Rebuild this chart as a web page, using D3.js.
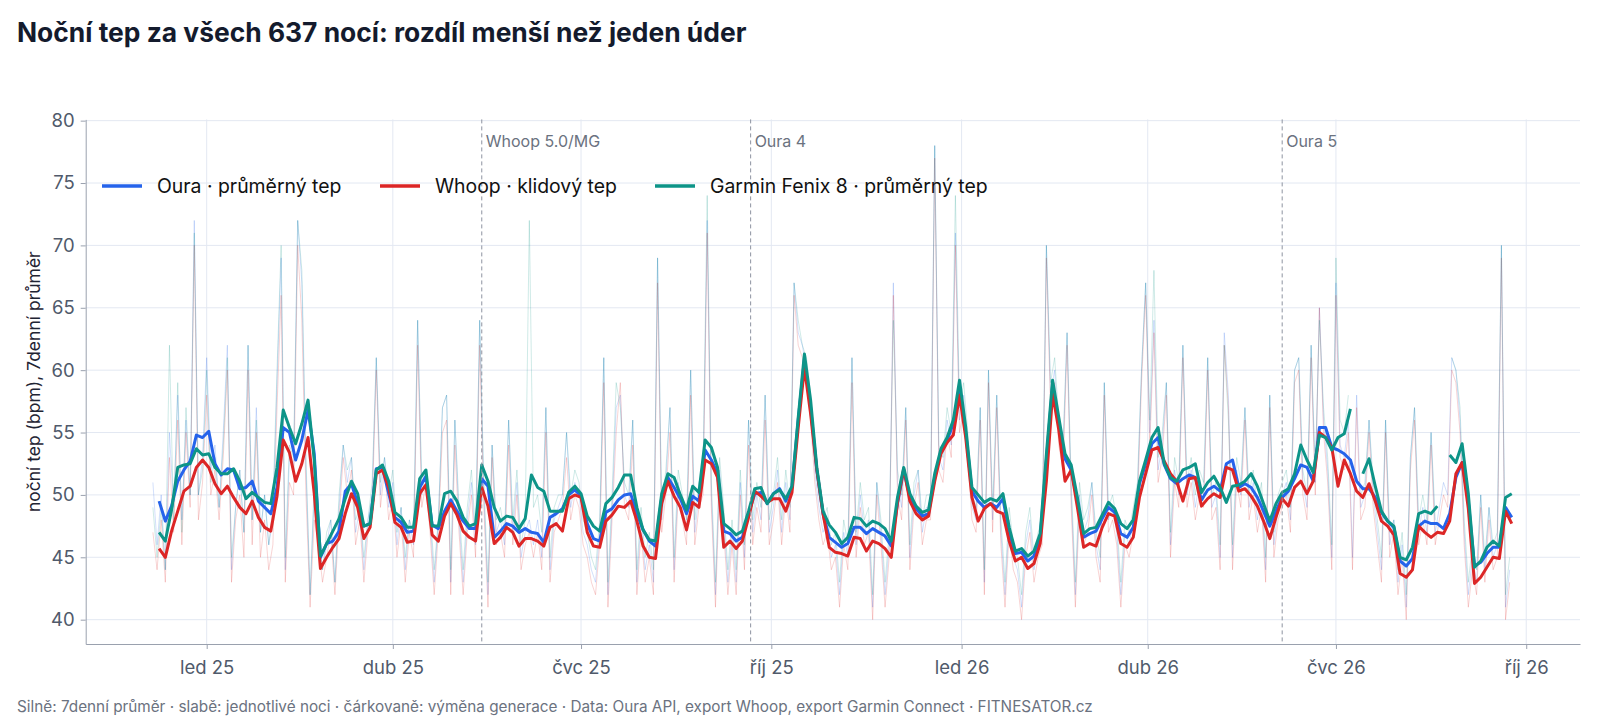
<!DOCTYPE html>
<html lang="cs">
<head>
<meta charset="utf-8">
<title>Noční tep</title>
<script src="https://cdn.jsdelivr.net/npm/d3@7"></script>
<style>
  html, body { margin: 0; padding: 0; background: #fff; }
  svg { display: block; font-family: Inter, "Noto Sans", sans-serif; }
</style>
</head>
<body>
<svg id="chart" width="1600" height="720"></svg>
<script>
// ---- data ----------------------------------------------------------
// first night of the series, spacing of the stored points (days)
const firstNight = "2024-12-06";
const avgStep = 3;     // 7denní průměr, read every 3rd day
const nightStep = 2;   // jednotlivé noci, read every 2nd day

// 7-day averages (bpm)
const ouraAvg = [
  null,49.5,47.9,49.1,51.1,52.0,52.7,54.8,54.6,55.1,
  52.5,51.6,52.1,52.0,50.5,50.6,51.1,49.5,49.0,48.5,
  50.6,55.4,55.0,52.8,54.4,56.8,53.3,45.0,46.1,46.3,
  47.1,50.3,50.9,49.3,47.5,47.7,52.1,52.2,50.1,48.2,
  47.8,47.0,47.1,50.6,51.5,47.6,47.3,48.7,49.6,48.7,
  47.9,47.3,47.3,51.3,50.7,46.6,47.1,47.7,47.5,47.0,
  47.3,47.0,46.9,46.2,48.2,48.5,48.9,50.0,50.4,49.9,
  47.7,46.5,46.3,48.6,48.9,49.6,50.0,50.1,48.5,47.2,
  46.3,45.9,49.8,51.4,50.6,49.7,48.5,49.9,49.5,53.6,
  52.8,51.7,47.1,46.9,46.3,46.6,48.5,50.1,50.2,49.3,
  50.1,50.5,49.5,50.6,56.0,60.9,57.0,52.0,48.5,46.6,
  46.2,45.8,46.1,47.4,47.4,46.9,47.3,47.0,46.7,45.9,
  49.3,52.0,49.8,48.9,48.3,48.5,51.4,53.5,54.4,55.7,
  58.5,55.0,50.3,49.5,49.0,49.3,49.0,49.7,47.0,45.3,
  45.4,44.7,45.1,46.6,52.8,58.8,55.8,52.9,52.0,49.5,
  46.6,46.9,47.1,48.1,49.0,48.6,46.9,46.6,47.4,50.9,
  52.5,54.1,54.6,52.4,51.3,50.9,51.3,51.6,51.4,49.6,
  50.4,50.7,50.3,52.5,52.8,50.6,50.9,50.6,49.8,48.7,
  47.5,48.7,49.8,50.3,51.3,52.4,52.2,51.1,55.4,55.4,
  53.8,53.6,53.3,52.8,51.1,50.5,50.5,49.8,48.6,47.9,
  47.4,44.7,44.3,44.9,47.5,47.9,47.7,47.7,47.3,48.5,
  51.4,52.6,49.5,44.3,44.6,45.3,45.8,45.8,49.0,48.2
];
const whoopAvg = [
  null,45.7,45.0,47.1,48.7,50.3,50.7,52.2,52.8,52.2,
  50.9,50.1,50.7,49.8,49.0,48.5,49.5,48.2,47.4,47.1,
  49.9,54.4,53.4,51.1,52.5,54.6,50.1,44.1,45.0,45.8,
  46.5,48.5,50.1,49.0,46.5,47.4,51.7,52.0,50.6,47.8,
  47.4,46.2,46.3,50.1,50.8,46.8,46.3,48.3,49.3,48.4,
  47.1,46.6,46.3,50.6,49.1,46.1,46.6,47.4,47.0,45.9,
  46.5,46.5,46.3,45.9,47.4,47.7,47.1,49.7,50.0,49.8,
  47.0,45.9,45.8,47.9,48.4,49.1,49.0,49.5,47.9,45.9,
  45.0,44.9,49.3,51.1,49.9,49.0,47.2,49.4,49.0,52.8,
  52.5,51.4,45.8,46.3,45.7,46.3,48.2,50.3,49.9,49.4,
  49.7,49.7,48.7,50.2,55.4,60.2,56.5,52.0,48.5,45.8,
  45.4,45.3,45.1,46.6,46.5,45.5,46.3,46.1,45.7,45.0,
  49.4,52.1,49.5,48.5,48.0,48.3,51.1,53.3,54.2,54.8,
  58.0,54.6,49.8,47.9,48.9,49.3,48.7,48.5,46.3,44.7,
  45.0,44.1,44.5,46.1,51.1,58.1,55.2,51.1,52.0,49.0,
  45.8,46.1,45.9,47.4,48.5,48.3,46.1,45.8,46.6,49.8,
  51.7,53.6,53.8,52.7,51.7,51.1,49.5,51.3,51.4,49.1,
  49.7,50.1,49.8,52.2,52.0,50.3,50.5,49.9,49.1,47.9,
  46.5,48.2,49.7,49.1,50.6,51.1,50.1,51.1,55.0,54.6,
  53.8,50.7,52.8,51.7,50.3,49.8,50.9,49.5,47.9,47.5,
  46.8,43.7,43.4,44.0,47.5,47.0,46.6,47.0,46.9,47.9,
  51.7,52.6,48.9,42.9,43.4,44.2,45.0,44.9,48.7,47.7
];
const garminAvg = [
  null,47.0,46.3,48.8,52.2,52.4,52.5,53.7,53.2,53.3,
  52.2,51.7,51.7,52.1,51.1,49.7,50.2,49.8,49.4,49.3,
  52.2,56.8,55.4,54.1,55.7,57.6,52.8,45.1,46.1,47.1,
  48.1,49.7,51.1,50.1,47.5,47.7,52.0,52.4,51.1,48.6,
  48.2,47.4,47.4,51.3,52.0,47.5,47.5,50.1,50.3,49.5,
  48.2,47.5,47.7,52.4,51.1,49.0,47.9,48.3,48.2,47.3,
  48.1,51.6,50.6,50.3,48.7,48.7,48.7,50.2,50.7,50.1,
  48.3,47.5,47.1,49.3,49.8,50.6,51.6,51.6,49.0,47.2,
  46.4,46.3,50.1,51.7,51.4,50.0,48.8,50.7,50.2,54.4,
  53.8,52.2,47.7,47.3,46.8,47.1,48.7,50.5,50.6,49.3,
  50.1,50.4,49.7,50.7,56.2,61.3,57.6,52.2,48.7,47.6,
  47.0,46.1,46.6,48.2,48.1,47.5,47.9,47.7,47.3,46.3,
  49.8,52.2,50.1,49.1,48.6,48.8,51.7,53.7,54.6,56.0,
  59.2,55.4,50.6,50.0,49.4,49.7,49.5,50.1,47.4,45.5,
  45.7,45.1,45.5,46.9,53.3,59.2,56.2,53.3,52.4,49.8,
  46.9,47.3,47.4,48.4,49.4,48.9,47.7,47.3,48.0,51.1,
  52.8,54.6,55.4,52.5,51.4,51.1,52.0,52.2,52.5,50.2,
  51.0,51.5,50.6,49.4,50.7,50.8,51.1,51.7,50.7,49.3,
  47.9,49.3,50.2,50.5,51.7,54.0,52.8,51.8,54.8,54.6,
  53.6,54.6,54.9,56.9,null,51.7,52.9,50.7,48.7,47.9,
  47.5,45.0,44.8,45.8,48.5,48.7,48.5,49.1,null,53.2,
  52.6,54.1,50.1,44.2,44.7,45.8,46.3,45.9,49.8,50.1
];

// single nights (bpm)
const ouraNight = [
  51,46,50,44,55,49,58,48,56,50, 72,50,53,61,52,54,49,55,62,44,
  49,52,47,62,48,57,47,50,46,48, 59,69,44,53,52,72,67,52,42,50,
  47,44,46,48,43,49,54,51,53,47, 49,44,48,50,61,50,53,49,51,46,
  49,44,48,46,64,50,52,48,43,48, 57,58,43,56,48,43,48,51,46,64,
  50,42,54,47,48,46,56,47,51,45, 47,48,46,48,45,57,44,48,49,50,
  55,49,51,50,47,46,44,43,47,61, 42,49,57,58,50,49,56,43,48,44,
  46,43,69,48,51,57,44,51,49,47, 60,47,50,51,72,50,42,52,48,43,
  47,43,51,45,56,47,50,48,58,47, 49,52,47,51,48,67,63,62,60,57,
  52,49,47,48,45,46,42,47,45,61, 46,50,47,48,41,51,47,42,46,67,
  51,49,57,45,50,52,47,49,49,78, 53,52,56,54,71,56,58,54,49,48,
  57,43,60,48,58,47,42,48,45,44, 41,46,48,44,46,47,70,58,60,55,
  53,63,50,42,50,47,48,51,46,44, 59,48,49,47,42,47,46,48,50,60,
  67,55,64,52,54,59,46,52,50,62, 50,52,49,51,50,61,49,50,45,63,
  58,45,52,50,57,49,51,48,50,44, 58,46,49,50,51,48,60,61,51,49,
  62,51,65,56,52,45,67,54,53,56, 45,58,49,50,56,50,47,44,56,46,
  48,43,46,41,53,57,47,49,47,55, 47,49,51,50,61,60,56,47,42,45,
  43,50,44,49,45,46,70,41,44
];
const whoopNight = [
  47,44,48,43,53,47,56,46,55,49, 70,48,51,58,50,52,48,53,60,43,
  48,50,45,60,46,55,45,48,44,46, 57,66,43,51,50,70,64,50,41,48,
  46,43,45,47,42,48,53,50,52,46, 48,43,47,49,60,49,52,48,50,45,
  48,43,47,45,62,49,51,47,42,47, 55,56,42,54,47,42,47,50,45,62,
  49,41,53,46,47,45,54,46,50,44, 46,47,45,47,44,55,43,47,48,49,
  53,48,50,49,46,45,43,42,46,59, 41,48,55,59,49,48,54,42,47,43,
  45,42,67,47,50,55,43,50,48,46, 58,46,49,50,71,49,41,51,47,42,
  46,42,50,44,54,46,49,47,56,46, 48,51,46,50,47,66,62,61,59,56,
  51,48,46,47,44,45,41,46,44,59, 45,49,46,47,40,50,46,41,45,66,
  50,48,56,44,49,51,46,48,48,77, 52,51,55,53,70,55,57,53,48,47,
  56,42,59,47,57,46,41,47,44,43, 40,45,47,43,45,46,69,57,59,54,
  52,62,49,41,49,46,47,50,45,43, 58,47,48,46,41,46,45,47,49,59,
  66,54,63,51,53,58,45,51,49,61, 49,51,48,50,49,60,48,49,44,62,
  57,44,51,49,56,48,50,47,49,43, 57,45,48,49,50,47,59,60,50,48,
  61,50,65,55,51,44,66,53,52,55, 44,57,48,49,55,49,46,43,55,45,
  47,42,45,40,52,56,46,48,46,54, 46,48,50,49,60,59,55,46,41,44,
  42,49,43,48,44,45,69,40,43
];
const garminNight = [
  49,45,49,44,62,48,59,47,57,50, 71,50,52,60,51,53,49,54,61,45,
  49,52,47,62,48,56,47,50,46,49, 60,70,45,54,53,72,68,53,42,51,
  47,44,47,48,43,50,54,52,53,48, 49,45,48,51,61,51,53,50,52,47,
  49,45,48,47,64,51,52,49,44,48, 57,58,44,56,49,44,49,52,47,64,
  51,43,54,48,49,47,56,48,52,46, 48,72,49,50,47,57,45,49,50,50,
  55,50,52,51,48,47,45,44,48,61, 43,50,59,57,51,50,56,44,49,45,
  47,44,69,49,52,57,45,52,50,48, 60,48,51,52,74,51,43,53,49,44,
  48,44,52,46,56,48,51,49,58,48, 50,53,48,52,49,67,64,62,61,58,
  53,50,48,49,46,47,43,48,46,61, 47,51,48,49,42,51,48,43,47,64,
  52,50,57,46,51,52,48,50,50,78, 54,53,57,55,74,57,59,55,50,49,
  57,44,60,49,58,48,43,49,46,45, 42,47,49,45,47,48,70,59,61,56,
  54,63,51,43,51,48,49,51,47,45, 59,49,50,48,43,48,47,49,51,60,
  67,56,68,53,55,59,47,53,51,62, 51,53,50,52,51,61,50,51,46,62,
  56,46,53,51,57,50,52,49,51,45, 58,47,50,51,52,49,60,61,52,50,
  62,52,64,57,53,46,69,56,55,58, null,null,50,51,56,51,48,45,56,47,
  48,44,47,42,53,57,48,50,48,55, 48,null,null,null,61,60,57,48,43,46,
  44,50,45,49,46,47,70,42,45
];

const seriesNames = ["Oura · průměrný tep", "Whoop · klidový tep", "Garmin Fenix 8 · průměrný tep"];
const seriesColors = ["#2563eb", "#dc2626", "#0d9488"];

const changeDates = ["2025-05-14", "2025-09-21", "2026-06-05"];
const changeLabels = ["Whoop 5.0/MG", "Oura 4", "Oura 5"];

const xTickDates = ["2025-01-01", "2025-04-01", "2025-07-01", "2025-10-01",
                    "2026-01-01", "2026-04-01", "2026-07-01", "2026-10-01"];
const xTickLabels = ["led 25", "dub 25", "čvc 25", "říj 25", "led 26", "dub 26", "čvc 26", "říj 26"];
const yTicks = [40, 45, 50, 55, 60, 65, 70, 75, 80];

// ---- chart ---------------------------------------------------------
const DAY = 864e5;
const svg = d3.select("#chart");
const plot = {left: 85.7, right: 1580, top: 119.4, bottom: 644};

const x = d3.scaleUtc()
  .domain([new Date("2024-11-03T12:00:00Z"), new Date("2026-10-27T00:00:00Z")])
  .range([plot.left, plot.right]);
const y = d3.scaleLinear()
  .domain([38.05, 80.1])
  .range([plot.bottom, plot.top]);

const t0 = new Date(firstNight + "T00:00:00Z").getTime();
const toPoints = (arr, step) => arr.map((v, i) => ({date: new Date(t0 + i * step * DAY), v: v}));

const allAvg = [ouraAvg, whoopAvg, garminAvg];
const allNight = [ouraNight, whoopNight, garminNight];

// grid
const grid = svg.append("g");
grid.selectAll("line.h").data(yTicks).join("line")
  .attr("x1", plot.left).attr("x2", plot.right)
  .attr("y1", d => y(d)).attr("y2", d => y(d))
  .attr("stroke", "#e3e8f2").attr("stroke-width", 1);
grid.selectAll("line.v").data(xTickDates).join("line")
  .attr("x1", d => x(new Date(d))).attr("x2", d => x(new Date(d)))
  .attr("y1", plot.top).attr("y2", plot.bottom)
  .attr("stroke", "#e3e8f2").attr("stroke-width", 1);

svg.append("clipPath").attr("id", "clip")
  .append("rect")
  .attr("x", plot.left).attr("y", plot.top)
  .attr("width", plot.right - plot.left).attr("height", plot.bottom - plot.top);

const line = d3.line()
  .defined(d => d.v != null)
  .x(d => x(d.date))
  .y(d => y(d.v));

const marks = svg.append("g").attr("clip-path", "url(#clip)");

// faint single nights
allNight.forEach((arr, k) => {
  marks.append("path")
    .datum(toPoints(arr, nightStep))
    .attr("d", line)
    .attr("fill", "none")
    .attr("stroke", seriesColors[k])
    .attr("stroke-opacity", 0.2)
    .attr("stroke-width", 1);
});

// generation changes
const changes = svg.append("g");
changeDates.forEach((d, i) => {
  const cx = x(new Date(d));
  changes.append("line")
    .attr("x1", cx).attr("x2", cx)
    .attr("y1", plot.top).attr("y2", plot.bottom)
    .attr("stroke", "#8d93a0").attr("stroke-width", 1)
    .attr("stroke-dasharray", "4,3");
  changes.append("text")
    .attr("x", cx + 4).attr("y", 147)
    .attr("font-size", 16).attr("fill", "#6b7280")
    .text(changeLabels[i]);
});

// 7-day averages
allAvg.forEach((arr, k) => {
  marks.append("path")
    .datum(toPoints(arr, avgStep))
    .attr("d", line)
    .attr("fill", "none")
    .attr("stroke", seriesColors[k])
    .attr("stroke-width", 3)
    .attr("stroke-linejoin", "round");
});

// axes
const xAxis = d3.axisBottom(x)
  .tickValues(xTickDates.map(d => new Date(d)))
  .tickFormat((d, i) => xTickLabels[i])
  .tickSize(5).tickSizeOuter(0).tickPadding(12);
const yAxis = d3.axisLeft(y)
  .tickValues(yTicks)
  .tickSize(5).tickSizeOuter(0).tickPadding(6);

const gx = svg.append("g").attr("transform", "translate(0," + plot.bottom + ")").call(xAxis);
const gy = svg.append("g").attr("transform", "translate(" + plot.left + ",0)").call(yAxis);
[gx, gy].forEach(g => {
  g.select(".domain").attr("stroke", "#9aa1ae");
  g.selectAll(".tick line").attr("stroke", "#9aa1ae");
  g.selectAll(".tick text").attr("font-size", 18.5).attr("fill", "#505a6b")
    .attr("font-family", "Inter, 'Noto Sans', sans-serif");
});

// legend
const legendX = [102, 380, 655];
const legend = svg.append("g").attr("transform", "translate(0,186)");
seriesNames.forEach((name, k) => {
  legend.append("line")
    .attr("x1", legendX[k]).attr("x2", legendX[k] + 40)
    .attr("stroke", seriesColors[k]).attr("stroke-width", 3.5);
  legend.append("text")
    .attr("x", legendX[k] + 55).attr("dy", "0.35em")
    .attr("font-size", 19.4).attr("fill", "#111")
    .text(name);
});

// titles
svg.append("text")
  .attr("x", 17).attr("y", 42)
  .attr("font-size", 26.4).attr("font-weight", 700).attr("fill", "#141b2d")
  .text("Noční tep za všech 637 nocí: rozdíl menší než jeden úder");

svg.append("text")
  .attr("transform", "translate(34," + ((plot.top + plot.bottom) / 2) + ") rotate(-90)")
  .attr("text-anchor", "middle").attr("dy", "0.35em")
  .attr("font-size", 17.5).attr("fill", "#1f2433")
  .text("noční tep (bpm), 7denní průměr");

svg.append("text")
  .attr("x", 17).attr("y", 712)
  .attr("font-size", 15.3).attr("fill", "#6b7280")
  .text("Silně: 7denní průměr · slabě: jednotlivé noci · čárkovaně: výměna generace · Data: Oura API, export Whoop, export Garmin Connect · FITNESATOR.cz");
</script>
</body>
</html>
